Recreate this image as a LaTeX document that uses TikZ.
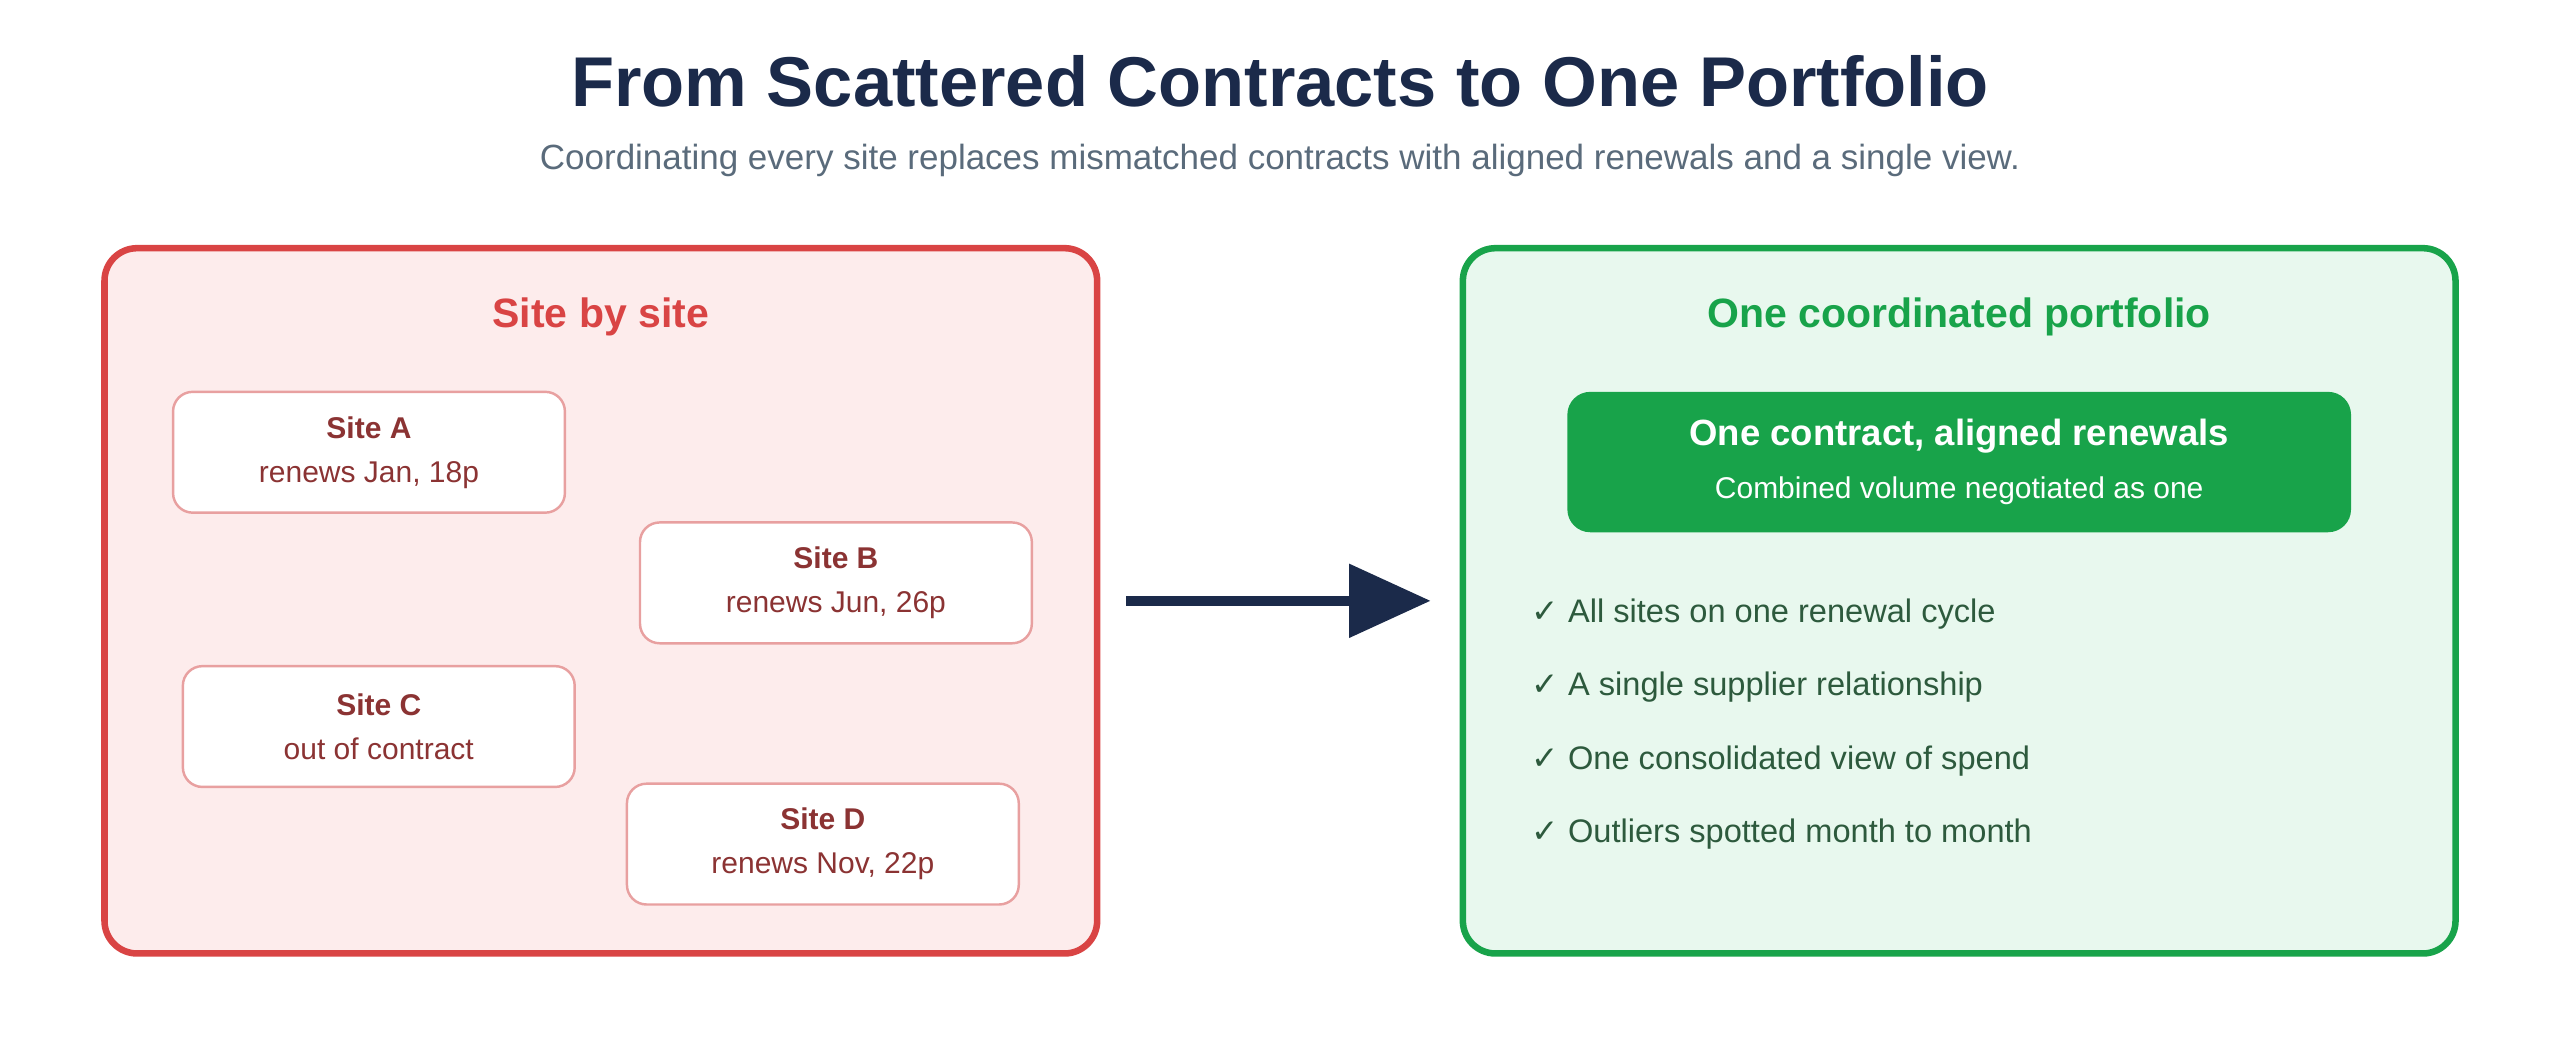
\documentclass[tikz,border=0pt]{standalone}
\usepackage{fontspec}
\setmainfont{Liberation Sans}
\newfontfamily\symfont{DejaVu Sans}
\usetikzlibrary{arrows.meta, positioning}
\newlength\pxu
\setlength\pxu{1.633pt}
\definecolor{navy}{HTML}{1B2A4A}
\definecolor{subgray}{HTML}{5A6B7B}
\definecolor{redline}{HTML}{D94444}
\definecolor{redfill}{HTML}{FDECEC}
\definecolor{siteline}{HTML}{E8A0A0}
\definecolor{sitetext}{HTML}{8B3333}
\definecolor{greenline}{HTML}{18A34A}
\definecolor{greenfill}{HTML}{E8F8EE}
\definecolor{checktext}{HTML}{2D5A3D}
\tikzstyle{panel} = [rectangle, rounded corners=20\pxu, line width=4\pxu, minimum width=608\pxu, minimum height=432\pxu]
\tikzstyle{paneltitle} = [font=\fontsize{41}{50}\selectfont\bfseries]
\tikzstyle{site} = [rectangle, rounded corners=12\pxu, draw=siteline, line width=1.5\pxu, fill=white, minimum width=240\pxu, minimum height=74\pxu, align=center, text=sitetext, font=\fontsize{30}{44}\selectfont, execute at begin node={\rule{0pt}{56pt}}]
\tikzstyle{check} = [anchor=west, text=checktext, font=\fontsize{32.6}{40}\selectfont]
\tikzstyle{arrow} = [line width=6\pxu, draw=navy, -{Triangle[length=81.6pt, width=71.8pt]}]
\begin{document}
\begin{tikzpicture}[x=\pxu, y=-\pxu]
\useasboundingbox (0,0) rectangle (1568,648);
\node (title) [text=navy, font=\fontsize{70.5}{80}\selectfont\bfseries] at (784,50) {From Scattered Contracts to One Portfolio};
\node (subtitle) [text=subgray, font=\fontsize{35}{42}\selectfont] at (784,98) {Coordinating every site replaces mismatched contracts with aligned renewals and a single view.};
% left panel
\node (left) [panel, draw=redline, fill=redfill] at (368,368) {};
\node (lefttitle) [paneltitle, text=redline] at (368,194) {Site by site};
\node (siteA) [site] at (226,277) {\textbf{Site A}\\renews Jan, 18p};
\node (siteB) [site] at (512,357) {\textbf{Site B}\\renews Jun, 26p};
\node (siteC) [site] at (232,445) {\textbf{Site C}\\out of contract};
\node (siteD) [site] at (504,517) {\textbf{Site D}\\renews Nov, 22p};
% right panel
\node (right) [panel, draw=greenline, fill=greenfill] at (1200,368) {};
\node (righttitle) [paneltitle, text=greenline] at (1200,194) {One coordinated portfolio};
\node (deal) [rectangle, rounded corners=14\pxu, fill=greenline, minimum width=480\pxu, minimum height=86\pxu, align=center, text=white] at (1200,283)
  {{\fontsize{36.5}{44}\selectfont\bfseries One contract, aligned renewals}\\[14\pxu]{\fontsize{30}{36}\selectfont Combined volume negotiated as one}};
\node (c1) [check] at (936,376) {{\symfont ✓} All sites on one renewal cycle};
\node (c2) [check] at (936,421) {{\symfont ✓} A single supplier relationship};
\node (c3) [check] at (936,466) {{\symfont ✓} One consolidated view of spend};
\node (c4) [check] at (936,511) {{\symfont ✓} Outliers spotted month to month};
\draw [arrow, shorten <=26pt, shorten >=29pt] (left.east) -- (right.west);
\end{tikzpicture}
\end{document}
